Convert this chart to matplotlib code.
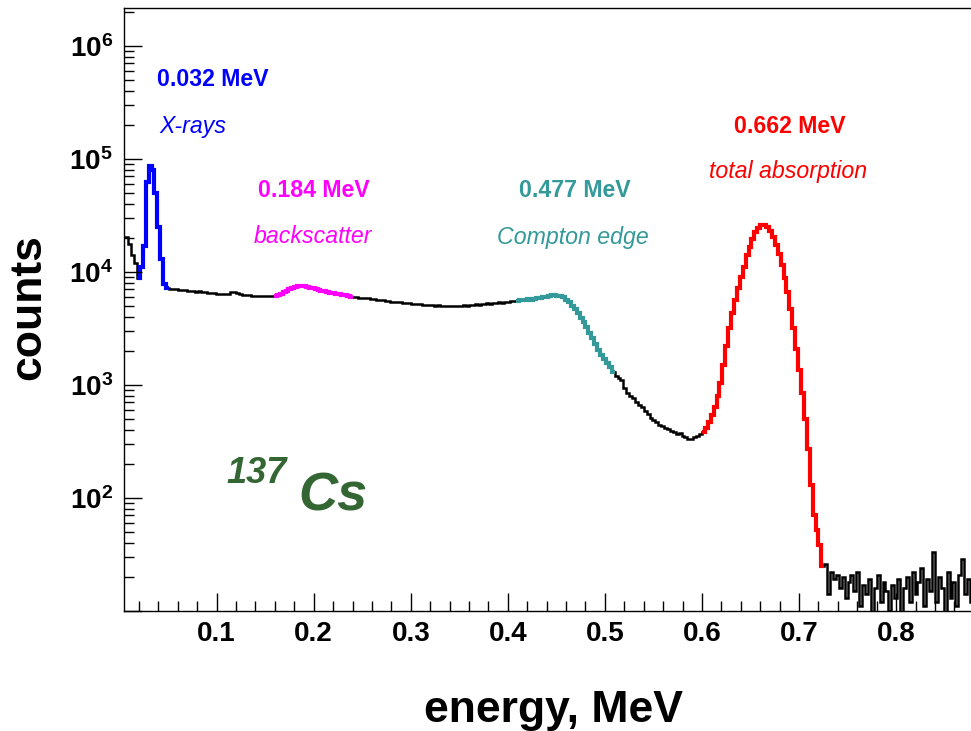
import numpy as np
import matplotlib.pyplot as plt
from matplotlib.ticker import MultipleLocator, FixedLocator, NullFormatter

plt.rcParams['font.family'] = 'Liberation Sans'
plt.rcParams['font.weight'] = 'bold'
plt.rcParams['mathtext.fontset'] = 'custom'
plt.rcParams['mathtext.rm'] = 'Liberation Sans:bold'
plt.rcParams['mathtext.it'] = 'Liberation Sans:bold:italic'
plt.rcParams['mathtext.bf'] = 'Liberation Sans:bold'

# Cs-137 spectrum, 3 keV bins starting at 3 keV
bin_width = 0.003
e_start = 0.003

low_edge = [20600, 20600, 17800, 14200, 11900]
xray = [8900, 11000, 17000, 62000, 86000, 80000, 50000, 25000, 13000, 7900, 7200]
plateau1 = [7100, 7050, 7000, 6980, 6900, 6950, 6850, 6800, 6750, 6700,
            6720, 6650, 6600, 6550, 6520, 6480, 6450, 6400, 6350, 6380,
            6450, 6600, 6650, 6550, 6400, 6300, 6250, 6200, 6150, 6100,
            6150, 6120, 6100, 6150, 6120, 6100]
backscatter = [6100, 6250, 6450, 6650, 6800, 7050, 7250, 7400, 7500, 7550,
               7450, 7350, 7250, 7150, 7000, 6900, 6850, 6750, 6650, 6550,
               6500, 6450, 6350, 6300, 6200, 6150, 6050]
plateau2 = [6000, 5950, 5900, 5900, 5850, 5850, 5800, 5750, 5700, 5650,
            5600, 5580, 5500, 5450, 5420, 5400, 5380, 5350, 5300, 5280,
            5250, 5220, 5180, 5200, 5150, 5120, 5080, 5120, 5050, 5080,
            5020, 4980, 5020, 4950, 5020, 5050, 5000, 5050, 5080, 5050,
            5120, 5080, 5180, 5120, 5220, 5180, 5280, 5220, 5320, 5350,
            5400, 5350, 5450, 5400, 5500, 5550]
compton = [5550, 5600, 5700, 5650, 5750, 5700, 5800, 5850, 5900, 6000,
           6050, 6150, 6200, 6200, 6150, 6100, 5950, 5700, 5400, 5050,
           4700, 4350, 3950, 3600, 3250, 2900, 2600, 2300, 2050, 1850,
           1700, 1550, 1450, 1300]
valley = [1200, 1150, 1100, 950, 850, 800, 760, 700, 660, 640,
          590, 550, 510, 490, 470, 440, 430, 415, 410, 395,
          385, 370, 375, 355, 350, 330, 335, 345, 355, 370]
photopeak = [380, 420, 470, 540, 640, 800, 1050, 1500, 2200, 3200,
             4300, 5600, 7200, 9000, 11000, 14000, 16500, 19500, 22500, 24500,
             26000, 26000, 25000, 23000, 20500, 17500, 14500, 11500, 8800, 6600,
             4700, 3200, 2100, 1350, 850, 500, 270, 130, 70, 52,
             38, 25]
tail = [26, 14, 22, 19, 21, 16, 20, 13, 18, 21,
        15, 22, 11, 17, 14, 19, 9, 16, 21, 12,
        18, 15, 10, 17, 13, 19, 9, 16, 20, 12,
        22, 14, 18, 24, 11, 19, 15, 33, 12, 20,
        16, 9, 22, 13, 18, 11, 21, 29, 14, 19,
        12]

segments = [low_edge, xray, plateau1, backscatter, plateau2,
            compton, valley, photopeak, tail]
seg_colors = [None, '#0000ff', None, '#ff00ff', None,
              '#339999', None, '#ff0000', None]

peak_energy = ['0.032 MeV', '0.184 MeV', '0.477 MeV', '0.662 MeV']
peak_name = ['X-rays', 'backscatter', 'Compton edge', 'total absorption']

counts = np.concatenate([np.array(s, dtype=float) for s in segments])
edges = e_start + bin_width * np.arange(len(counts) + 1)

fig = plt.figure(figsize=(9.71, 7.31), dpi=100)
ax = fig.add_axes([124 / 971, 120 / 731, 848.8 / 971, 603 / 731])

ax.stairs(counts, edges, baseline=None, color='black', lw=1.8)

# coloured regions drawn thicker on top
i0 = 0
for seg, col in zip(segments, seg_colors):
    i1 = i0 + len(seg)
    if col is not None:
        ax.stairs(counts[i0:i1], edges[i0:i1 + 1], baseline=None, color=col, lw=3.0)
    i0 = i1

ax.set_yscale('log')
ax.set_xlim(0.0046, 0.879)
ax.set_ylim(10, 10 ** 6.336)

ax.xaxis.set_major_locator(MultipleLocator(0.1))
ax.xaxis.set_minor_locator(MultipleLocator(0.02))
ax.xaxis.set_major_formatter(lambda v, p: '%.1f' % v)

decades = [2, 3, 4, 5, 6]
ax.yaxis.set_major_locator(FixedLocator([10.0 ** d for d in [1] + decades]))
ax.set_yticklabels([''] + [r'$\mathrm{10^{%d}}$' % d for d in decades])
minor = [m * 10.0 ** d for d in range(1, 7) for m in range(2, 10)]
ax.yaxis.set_minor_locator(FixedLocator(minor))
ax.yaxis.set_minor_formatter(NullFormatter())

ax.tick_params(which='both', direction='in', top=False, right=False, width=1)
ax.tick_params(which='major', length=13, labelsize=20)
ax.tick_params(which='minor', length=7)
ax.tick_params(axis='x', pad=7)
ax.tick_params(axis='y', pad=8)
for sp in ax.spines.values():
    sp.set_linewidth(1.0)

fs = 16.7
ax.text(0.0962, 5.0e5, peak_energy[0], color='#0000ff', fontsize=fs, ha='center', va='center')
ax.text(0.0755, 1.92e5, peak_name[0], color='#0000ff', fontsize=fs, ha='center', va='center',
        style='italic', weight='normal')
ax.text(0.2004, 5.3e4, peak_energy[1], color='#ff00ff', fontsize=fs, ha='center', va='center')
ax.text(0.1994, 2.08e4, peak_name[1], color='#ff00ff', fontsize=fs, ha='center', va='center',
        style='italic', weight='normal')
ax.text(0.4686, 5.3e4, peak_energy[2], color='#339999', fontsize=fs, ha='center', va='center')
ax.text(0.4666, 2.0e4, peak_name[2], color='#339999', fontsize=fs, ha='center', va='center',
        style='italic', weight='normal')
ax.text(0.6904, 1.92e5, peak_energy[3], color='#ff0000', fontsize=fs, ha='center', va='center')
ax.text(0.6883, 7.67e4, peak_name[3], color='#ff0000', fontsize=fs, ha='center', va='center',
        style='italic', weight='normal')

ax.text(0.1106, 136, '137', color='#336633', fontsize=26, style='italic', va='baseline')
ax.text(0.1838, 78, 'Cs', color='#336633', fontsize=39, style='italic', va='baseline')

fig.text(553 / 971, 9 / 731, 'energy, MeV', fontsize=32, ha='center', va='baseline')
fig.text(29 / 971, 1 - 307 / 731, 'counts', fontsize=32, rotation=90, ha='center', va='center')

fig.savefig('out.png', dpi=100)
